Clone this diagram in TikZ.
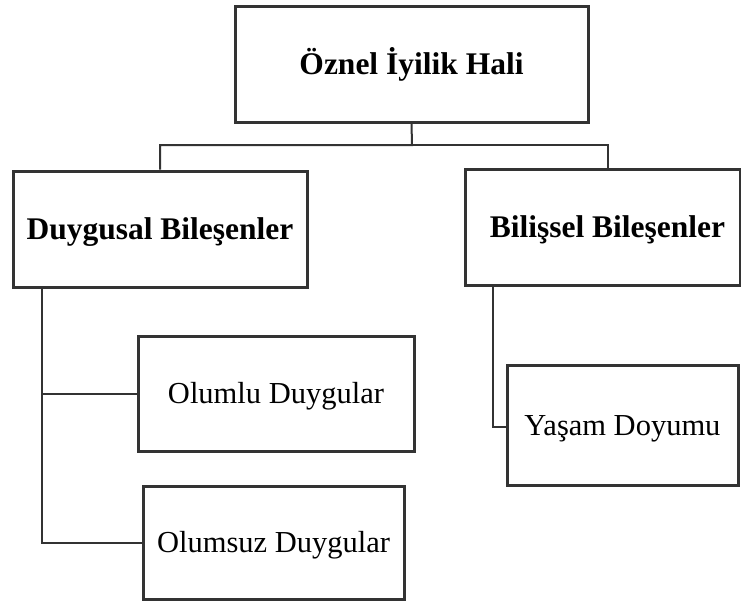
\documentclass[tikz,border=0pt]{standalone}
\usepackage{fontspec}
\setmainfont{Liberation Serif}
\definecolor{edge}{HTML}{333333}
\begin{document}
\begin{tikzpicture}[x=1pt,y=-1pt,
  box/.style={draw=edge,line width=3pt,fill=white,inner sep=0pt,align=center,text height=20.5pt,text depth=0pt},
  boldtxt/.style={font=\fontsize{31.5}{36}\selectfont\bfseries},
  regtxt/.style={font=\fontsize{30.5}{36}\selectfont},
  conn/.style={draw=edge,line width=2pt}]
\useasboundingbox (0,0) rectangle (741,602);
\node[box,boldtxt,minimum width=353pt,minimum height=115pt] (top) at (411.5,64.5) {Öznel İyilik Hali};
\node[box,boldtxt,minimum width=294pt,minimum height=116pt] (duy) at (160,229) {Duygusal Bileşenler};
\node[box,boldtxt,minimum width=275pt,minimum height=116pt] (bil) at (602.5,227) {\hspace*{10pt}Bilişsel Bileşenler};
\node[box,regtxt,minimum width=276pt,minimum height=115pt] (olu) at (276,393.5) {Olumlu Duygular};
\node[box,regtxt,minimum width=261pt,minimum height=113pt] (ols) at (273.5,542.5) {Olumsuz Duygular};
\node[box,regtxt,minimum width=231pt,minimum height=120pt] (yas) at (622.5,425) {Yaşam Doyumu};
\coordinate (j) at (412,145);
\draw[conn] (top.south) -- (j) -| (duy.north);
\draw[conn] (j) -| ([xshift=5.5pt]bil.north);
\draw[conn] ([xshift=30pt]duy.south west) |- (olu.west);
\draw[conn] ([xshift=30pt]duy.south west) |- (ols.west);
\draw[conn] ([xshift=29pt]bil.south west) |- ([yshift=-2pt]yas.west);
\end{tikzpicture}
\end{document}
